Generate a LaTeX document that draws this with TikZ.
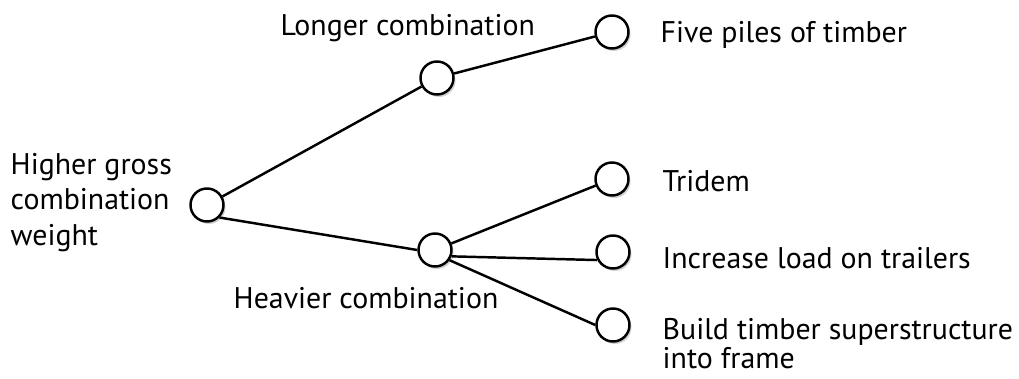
\documentclass[tikz,border=0pt]{standalone}
\usepackage{fontspec}
\setmainfont{PT Sans}
\usetikzlibrary{shadows}

\begin{document}
\begin{tikzpicture}[x=1cm,y=1cm,
  dot/.style={circle,draw,line width=.7pt,fill=white,minimum size=.33cm,inner sep=0pt,
    drop shadow={shadow xshift=.02cm,shadow yshift=-.025cm,fill=black!35}},
  txt/.style={anchor=base west,inner sep=0pt,align=left,font=\fontsize{8.5}{10}\selectfont}]
\useasboundingbox (0,0) rectangle (10.19,-3.78);
% decision points
\node[dot] (gcw) at(2.07,-2.05) {};
\node[dot] (long) at(4.37,-0.78) {};\node[dot] (heavy) at(4.35,-2.50) {};
\node[dot] (piles) at(6.12,-0.32) {};\node[dot] (tridem) at(6.12,-1.79) {};
\node[dot] (load) at(6.13,-2.52) {};\node[dot] (frame) at(6.13,-3.25) {};
% branches
\draw[line width=.7pt] (gcw) -- (long);\draw[line width=.7pt] (gcw.-45) -- (heavy.west);
\draw[line width=.7pt] (long) -- (piles);
\draw[line width=.7pt] (heavy) -- (tridem);
\draw[line width=.7pt] (heavy.-21) -- (load.207);
\draw[line width=.7pt] (heavy.-35) -- (frame.west);
% labels (base of a two- or three-line label is its last line)
\node[txt,font=\fontsize{8.5}{9.96}\selectfont] (gcwlbl) at(0.10,-2.45) {Higher gross\\combination\\weight};
\node[txt] (longlbl) at(2.80,-0.35) {Longer combination};
\node[txt] (heavylbl) at(2.33,-3.08) {Heavier combination};
\node[txt] (pileslbl) at(6.60,-0.42) {Five piles of timber};
\node[txt] (tridemlbl) at(6.62,-1.91) {Tridem};
\node[txt] (loadlbl) at(6.62,-2.68) {Increase load on trailers};
\node[txt,font=\fontsize{8.5}{8}\selectfont] (framelbl) at(6.62,-3.68) {Build timber superstructure\\into frame};
\end{tikzpicture}
\end{document}
